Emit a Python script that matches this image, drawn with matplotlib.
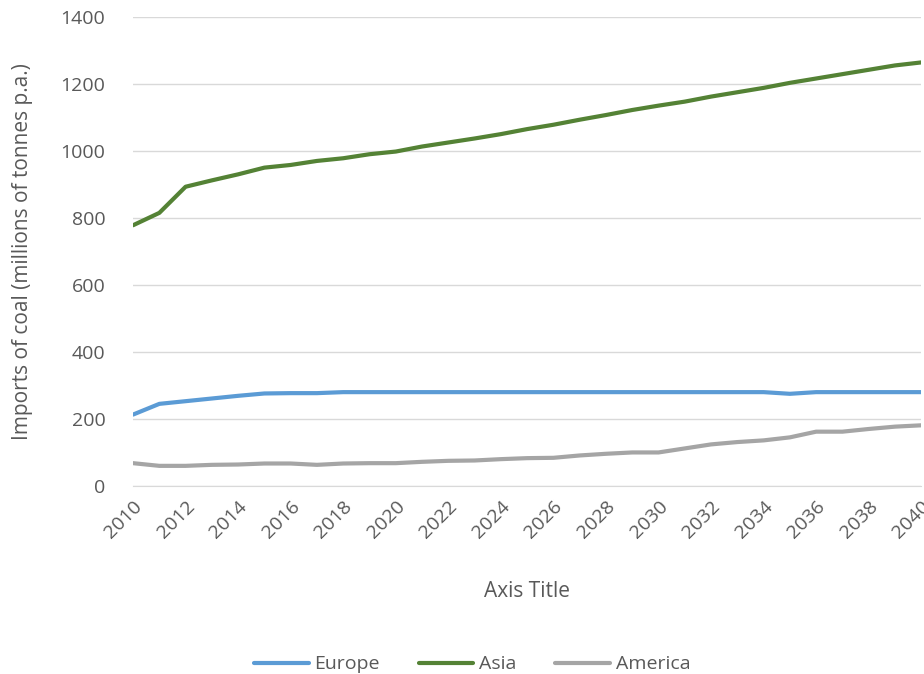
import numpy as np
import matplotlib.pyplot as plt

years = list(range(2010, 2041))
europe = [213, 245, 253, 261, 269, 276, 277, 277, 280, 280, 280, 280, 280, 280, 280, 280,
          280, 280, 280, 280, 280, 280, 280, 280, 280, 275, 280, 280, 280, 280, 280]
asia = [778, 815, 893, 912, 930, 950, 958, 970, 978, 990, 998, 1013, 1025, 1037, 1050, 1065,
        1078, 1093, 1107, 1122, 1135, 1147, 1162, 1175, 1188, 1203, 1216, 1229, 1242, 1255, 1264]
america = [68, 60, 60, 63, 64, 67, 67, 63, 67, 68, 68, 72, 75, 76, 80, 83,
           84, 91, 96, 100, 100, 112, 124, 131, 136, 145, 162, 162, 170, 177, 181]

plt.rcParams['font.family'] = ['Open Sans', 'DejaVu Sans']
grey = '#595959'

fig = plt.figure(figsize=(9.24, 6.74), dpi=100)
ax = fig.add_axes([0.144, 0.279, 0.853, 0.696])

ax.plot(years, europe, color='#5b9bd5', lw=3, label='Europe', solid_capstyle='round')
ax.plot(years, asia, color='#548235', lw=3, label='Asia', solid_capstyle='round')
ax.plot(years, america, color='#a5a5a5', lw=3, label='America', solid_capstyle='round')

ax.set_xlim(2010, 2040)
ax.set_ylim(0, 1400)
ax.set_yticks(range(0, 1401, 200))
ax.set_xticks(range(2010, 2041, 2))
ax.grid(axis='y', color='#d9d9d9', lw=1)
ax.set_axisbelow(True)
for s in ['top', 'right', 'left']:
    ax.spines[s].set_visible(False)
ax.spines['bottom'].set_color('#d9d9d9')
ax.tick_params(length=0, colors=grey, labelsize=14)
ax.tick_params(axis='y', pad=20)
ax.tick_params(axis='x', pad=8)
plt.setp(ax.get_xticklabels(), rotation=45, ha='right', rotation_mode='anchor')

ax.set_ylabel('Imports of coal (millions of tonnes p.a.)', color=grey, fontsize=15, labelpad=20)
ax.set_xlabel('Axis Title', color=grey, fontsize=15, labelpad=28)

fig.legend(loc='lower center', bbox_to_anchor=(0.511, -0.025), ncol=3, frameon=False,
           fontsize=14, labelcolor=grey, handlelength=2.8, columnspacing=2.0, handletextpad=0.3)

fig.savefig('out.png', dpi=100)
